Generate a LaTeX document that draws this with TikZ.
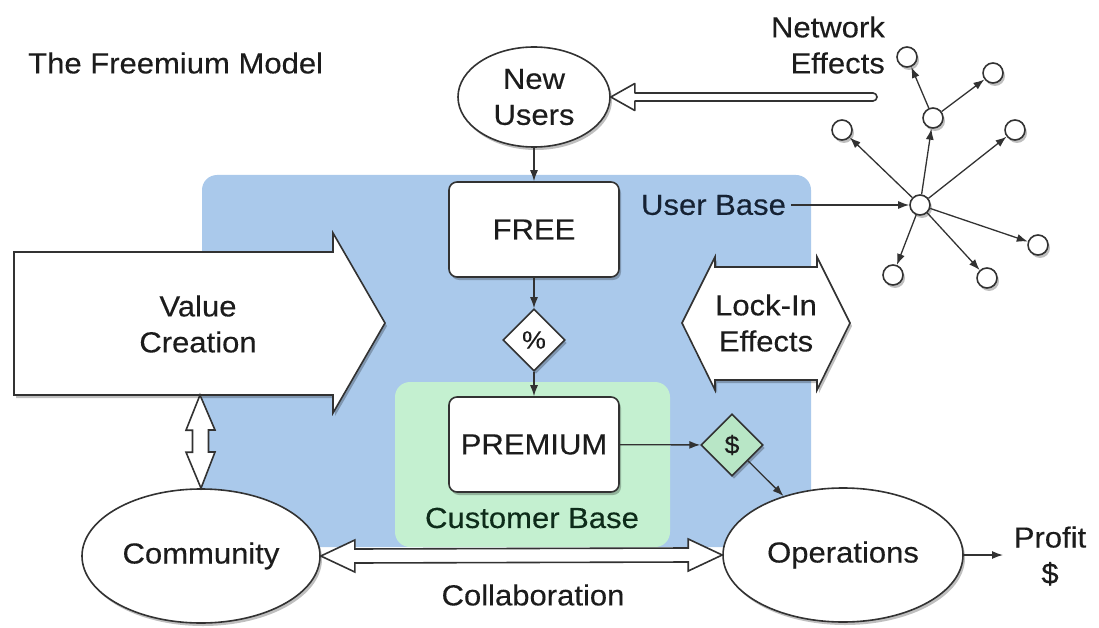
\documentclass[tikz,border=0pt]{standalone}
\usepackage{fontspec}
\setmainfont{Liberation Sans}[FakeStretch=1.07,FakeBold=0.3]
\usetikzlibrary{shapes.geometric,arrows.meta,shadows,calc}
\definecolor{bluebg}{RGB}{170,201,235}
\definecolor{greenbg}{RGB}{196,240,208}
\definecolor{dgreen}{RGB}{184,230,198}
\definecolor{edge}{RGB}{50,50,50}
\definecolor{txt}{RGB}{28,28,28}
\definecolor{navy}{RGB}{22,34,52}
\definecolor{greentxt}{RGB}{14,44,26}
\begin{document}
\begin{tikzpicture}[x=1pt,y=-1pt,
  font=\fontsize{29}{36}\selectfont, text=txt,
  shad/.style={drop shadow={shadow xshift=2pt,shadow yshift=-3pt,opacity=0.25,fill=black}},
  ell/.style={ellipse, draw=edge, line width=1.6pt, fill=white, shad, inner sep=0pt, align=center},
  box/.style={rectangle, rounded corners=8pt, draw=edge, line width=1.6pt, fill=white, minimum width=170pt, minimum height=95pt, shad},
  dia/.style={diamond, draw=edge, line width=1.6pt, fill=white, minimum width=62pt, minimum height=62pt, inner sep=0pt, shad, font=\fontsize{25}{30}\selectfont},
  dot/.style={circle, draw=edge, line width=1.6pt, fill=white, minimum size=20pt, inner sep=0pt, shad},
  arr/.style={draw=edge, line width=1.3pt, -{Latex[length=11pt,width=8pt]}},
  hollow/.style={draw=edge, line width=1.6pt, fill=white, line join=miter},
  lbl/.style={inner sep=0pt, align=center},
  ]
\useasboundingbox (0,0) rectangle (1099,628);

% background regions
\fill[bluebg, rounded corners=15pt] (202,175) rectangle (811,547);
\fill[greenbg, rounded corners=15pt] (395,382) rectangle (670,547);

% title
\node[lbl, anchor=west] (title) at (28,63) {The Freemium Model};

% main nodes
\node[ell, minimum width=152pt, minimum height=100pt] (nu) at (534,97) {New\\Users};
\node[box] (free) at (534,229.5) {FREE};
\node[dia] (pct) at (534,340) {\%};
\node[box] (prem) at (534,444.5) {PREMIUM};
\node[dia, fill=dgreen] (dol) at (732,445) {\$};
\node[ell, minimum width=238pt, minimum height=134pt] (comm) at (201,556) {Community};
\node[ell, minimum width=240pt, minimum height=134pt] (ops) at (843,555) {Operations};

\node[lbl, text=navy, inner sep=5pt] (ub) at (713.5,205) {User Base};
\node[lbl, text=greentxt] (cb) at (532,518) {Customer Base};
\node[lbl] (collab) at (533,595) {Collaboration};
\node[lbl] (profit) at (1050,556) {Profit\\\$};
\node[lbl, anchor=east, align=right] (ne) at (885,45) {Network\\Effects};

% Value Creation big arrow
\coordinate (vc) at (198,324);
\draw[hollow, shad] (14,252) -- (333,252) -- (333,233) -- (385,323) -- (333,413) -- (333,395) -- (14,395) -- cycle;
\node[lbl] (vctext) at (vc) {Value\\Creation};

% Lock-In Effects double arrow
\draw[hollow, shad] (682,323) -- (715,257) -- (715,267) -- (817,267) -- (817,257) -- (850,323) -- (817,390) -- (817,380) -- (715,380) -- (715,390) -- cycle;
\node[lbl] (lock) at (766,323) {Lock-In\\Effects};

% vertical double arrow Value Creation <-> Community
\coordinate (vtop) at (200,395);
\path (comm.north) coordinate (vbot);
\draw[hollow] (vtop) -- ++(15,35) -- ++(-6.5,0) -- ++(0,22) -- ++(6.5,0) -- (vbot) -- ++(-15,-36) -- ++(6.5,0) -- ++(0,-22) -- ++(-6.5,0) -- cycle;

% Collaboration double arrow
\draw[hollow] (comm.east) -- ++(34,-16) -- ++(0,9) -- ($(ops.west)+(-34,-7)$) -- ++(0,-9) -- (ops.west) -- ++(-34,16) -- ++(0,-9) -- ($(comm.east)+(34,7)$) -- ++(0,9) -- cycle;

% Network effects hollow arrow into New Users
\coordinate (netend) at (873,97);
\draw[hollow, line join=round] (nu.east) -- ++(24,-13.5) -- ++(0,9.5) -- ($(netend)+(0,-4)$) arc[start angle=90, end angle=-90, radius=4pt] -- ($(nu.east)+(24,4)$) -- ++(0,9.5) -- cycle;

% flow arrows
\draw[arr] (nu) -- (free);
\draw[arr] (free) -- (pct);
\draw[arr] (pct) -- (prem);
\draw[arr] (prem) -- (dol);
\draw[arr] (dol) -- (ops);
\coordinate (pend) at (1003,555);
\draw[arr] (ops.east) -- (pend);

% network
\node[dot] (hub) at (920,205) {};
\node[dot] (mid) at (933,118) {};
\node[dot] (n1) at (842,130) {};
\node[dot] (n2) at (907,57) {};
\node[dot] (n3) at (993,73) {};
\node[dot] (n4) at (1015,130) {};
\node[dot] (n5) at (1038,245) {};
\node[dot] (n6) at (987,278) {};
\node[dot] (n7) at (893,275) {};
\draw[arr] (ub) -- (hub);
\draw[arr] (hub) -- (mid);
\draw[arr] (hub) -- (n1);
\draw[arr] (mid) -- (n2);
\draw[arr] (mid) -- (n3);
\draw[arr] (hub) -- (n4);
\draw[arr] (hub) -- (n5);
\draw[arr] (hub) -- (n6);
\draw[arr] (hub) -- (n7);
\end{tikzpicture}
\end{document}
